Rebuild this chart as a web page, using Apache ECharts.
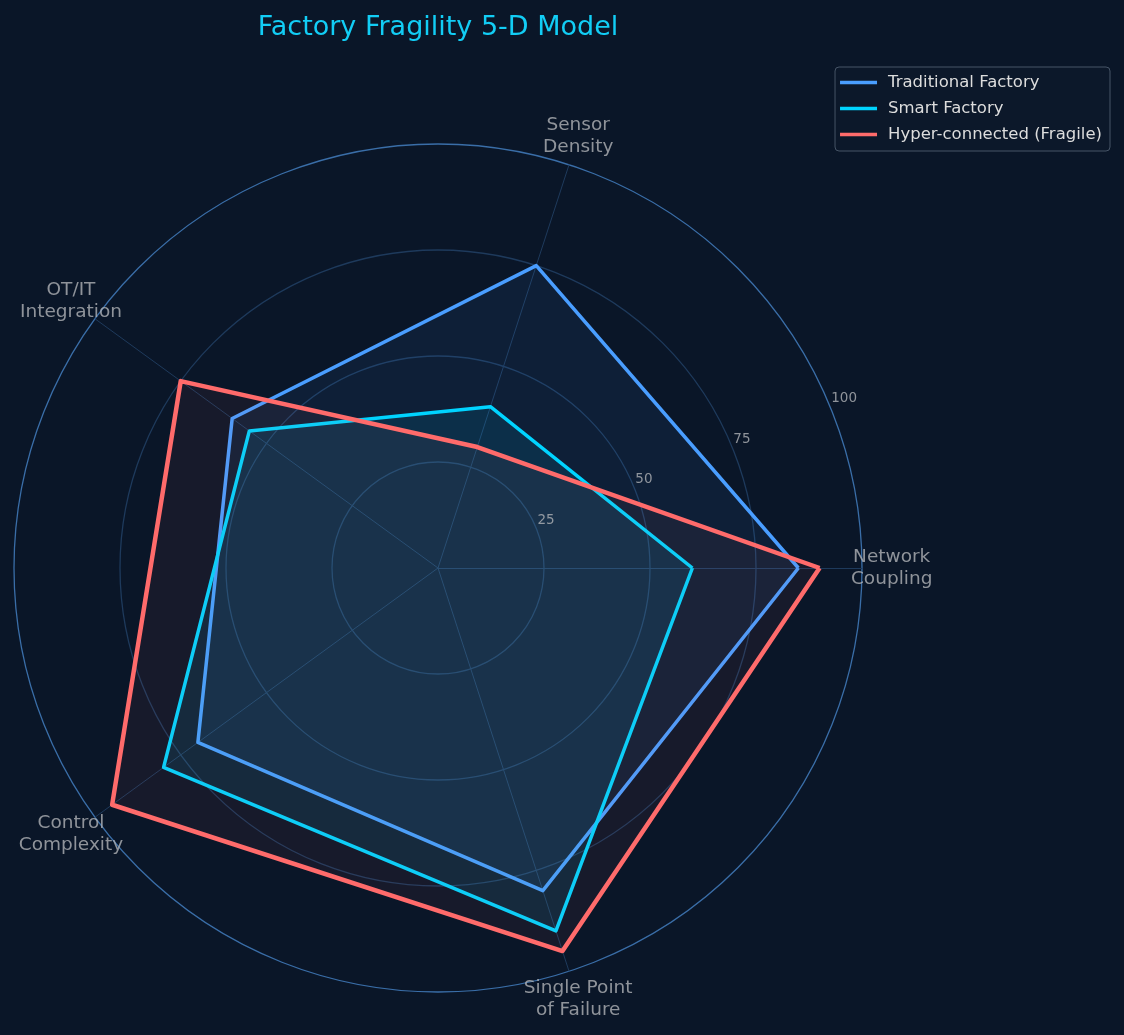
<!DOCTYPE html>
<html>
<head>
<meta charset="utf-8">
<title>Factory Fragility 5-D Model</title>
<script src="https://cdn.jsdelivr.net/npm/echarts@6/dist/echarts.min.js"></script>
<style>
  html, body { margin: 0; padding: 0; background: #0a1628; }
  #chart { width: 1124px; height: 1035px; }
</style>
</head>
<body>
<div id="chart"></div>
<script>
// dimensions, counterclockwise from the right
const dimensions = ['Network\nCoupling', 'Sensor\nDensity', 'OT/IT\nIntegration', 'Control\nComplexity', 'Single Point\nof Failure'];
const traditional = [85, 75, 60, 70, 80];
const smart = [60, 40, 55, 80, 90];
const hyper = [90, 30, 75, 95, 95];
const radialTicks = [25, 50, 75, 100];

const CX = 438, CY = 568, R = 424;
const FONT = 'DejaVu Sans';
const GRID = '#1e3a5c';

const chart = echarts.init(document.getElementById('chart'));

const step = 360 / dimensions.length;
const nameData = dimensions.map((d, i) => [107, i * step, d]);
const tickData = radialTicks.map(v => [v, 22.5, String(v)]);

chart.setOption({
  backgroundColor: '#0a1628',
  textStyle: { fontFamily: FONT },
  title: {
    text: 'Factory Fragility 5-D Model',
    left: CX, top: 14, padding: 0, textAlign: 'center',
    textStyle: { color: '#12cdf5', fontSize: 27, fontWeight: 'normal', fontFamily: FONT },
  },
  legend: {
    orient: 'vertical', right: 14, top: 67,
    padding: [7, 8, 8, 5],
    itemWidth: 37, itemHeight: 3.5, itemGap: 9,
    icon: 'rect',
    backgroundColor: 'rgba(12,24,42,0.9)',
    borderColor: '#465466', borderWidth: 1, borderRadius: 4,
    textStyle: { color: '#dddddd', fontSize: 16.5, fontFamily: FONT, padding: [0, 0, 0, 6] },
    data: ['Traditional Factory', 'Smart Factory', 'Hyper-connected (Fragile)'],
  },
  radar: {
    center: [CX, CY], radius: R, startAngle: 0,
    shape: 'circle', splitNumber: 4,
    indicator: dimensions.map(d => ({ name: d, min: 0, max: 100 })),
    axisName: { show: false },
    axisLine: { lineStyle: { color: GRID, width: 1 } },
    // colours go from the centre out: r=0, 25, 50, 75, 100
    splitLine: { lineStyle: { color: [GRID, GRID, GRID, GRID, '#3a6ea8'], width: 1.3 } },
    splitArea: { show: false },
  },
  polar: { center: [CX, CY], radius: R * 1.1 },
  angleAxis: { type: 'value', min: 0, max: 360, startAngle: 0, clockwise: false, show: false },
  radiusAxis: { type: 'value', min: 0, max: 110, show: false },
  series: [
    {
      type: 'radar', name: 'Traditional Factory', symbol: 'none',
      lineStyle: { color: '#4a9eff', width: 3.5 },
      itemStyle: { color: '#4a9eff' },
      areaStyle: { color: 'rgba(74,158,255,0.1)' },
      data: [{ value: traditional, name: 'Traditional Factory' }],
    },
    {
      type: 'radar', name: 'Smart Factory', symbol: 'none',
      lineStyle: { color: '#00d4ff', width: 3.5 },
      itemStyle: { color: '#00d4ff' },
      areaStyle: { color: 'rgba(0,212,255,0.13)' },
      data: [{ value: smart, name: 'Smart Factory' }],
    },
    {
      type: 'radar', name: 'Hyper-connected (Fragile)', symbol: 'none',
      lineStyle: { color: '#ff6b6b', width: 4.5 },
      itemStyle: { color: '#ff6b6b' },
      areaStyle: { color: 'rgba(255,107,107,0.08)' },
      data: [{ value: hyper, name: 'Hyper-connected (Fragile)' }],
    },
    {
      type: 'scatter', coordinateSystem: 'polar', silent: true,
      symbolSize: 1, itemStyle: { color: 'rgba(0,0,0,0)' },
      data: nameData,
      label: {
        show: true, position: 'inside', formatter: p => p.data[2],
        color: '#b0b3b7', fontSize: 18.5, lineHeight: 22, fontFamily: FONT,
        align: 'center', verticalAlign: 'middle',
      },
    },
    {
      type: 'scatter', coordinateSystem: 'polar', silent: true,
      symbolSize: 1, itemStyle: { color: 'rgba(0,0,0,0)' },
      data: tickData,
      label: {
        show: true, position: 'right', distance: 1, formatter: p => p.data[2],
        color: '#b0b3b7', fontSize: 13.5, fontFamily: FONT,
        align: 'left', verticalAlign: 'bottom',
      },
    },
  ],
});
</script>
</body>
</html>
